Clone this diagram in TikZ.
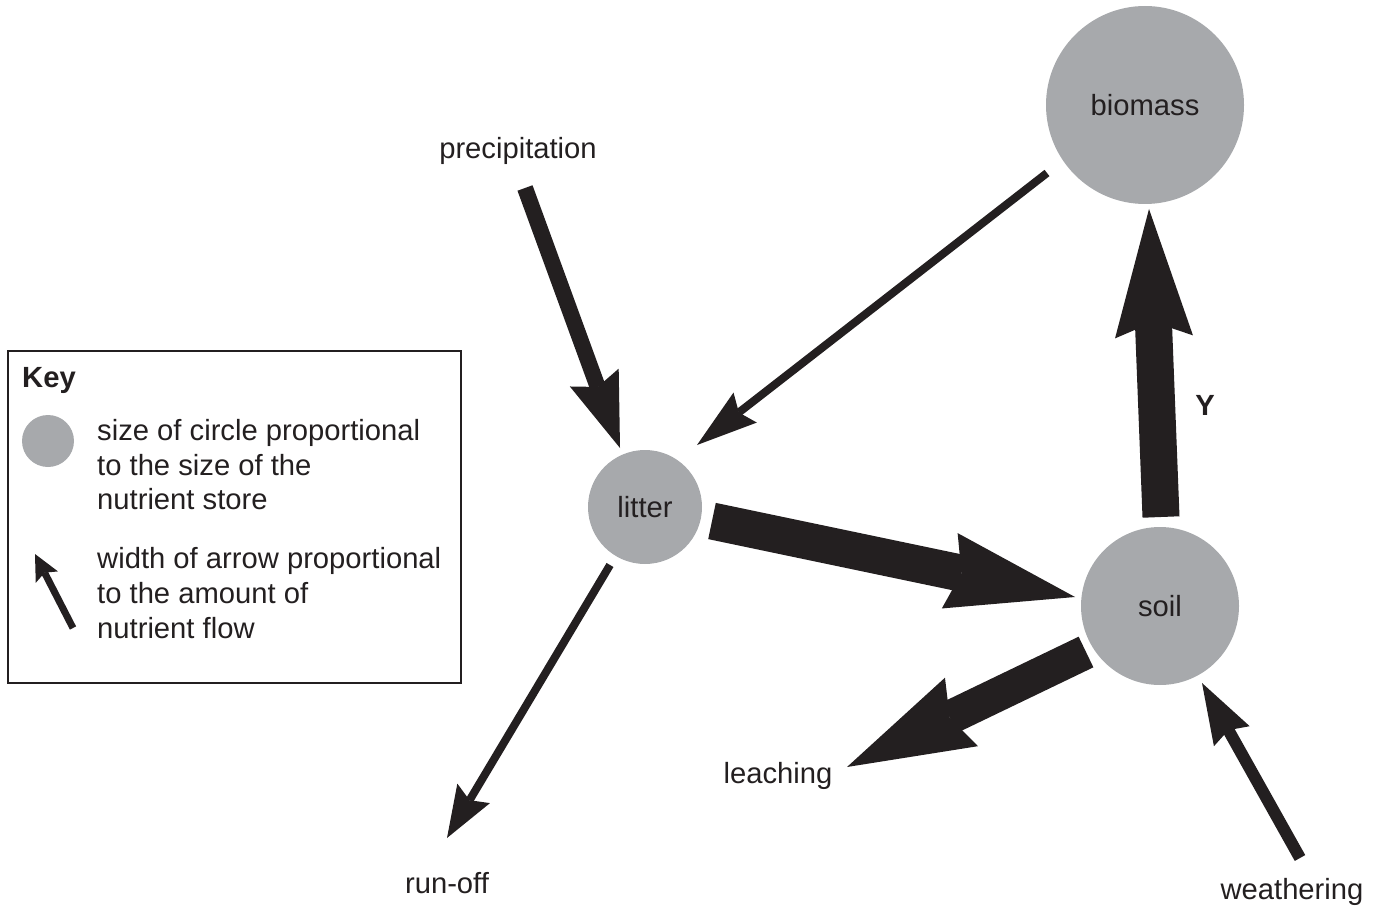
\documentclass[tikz,border=0pt]{standalone}
\usepackage{fontspec}
\setmainfont{Liberation Sans}
\usetikzlibrary{arrows.meta,calc}
\definecolor{ink}{HTML}{231F20}
\definecolor{storegray}{HTML}{A7A9AC}
\begin{document}
\begin{tikzpicture}[x=1pt,y=-1pt,
  lbl/.style={font=\fontsize{29.2}{35}\selectfont, text=ink, inner sep=0pt},
  boldlbl/.style={font=\fontsize{29.2}{35}\selectfont\bfseries, text=ink, inner sep=0pt},
  store/.style={circle, fill=storegray, inner sep=0pt, minimum size=#1,
                font=\fontsize{29.2}{35}\selectfont, text=ink},
  flow/.style n args={4}{draw=ink, line width=#1,
                -{Stealth[length=#2, width=#3, inset=#4, line width=0pt, fill=ink]}},
]
\useasboundingbox (0,0) rectangle (1381,909);

% stores
\node[store=198pt] (biomass) at (1145,105) {biomass};
\node[store=114pt] (litter) at (645,507) {litter};
\node[store=158pt] (soil) at (1160,606) {soil};

% labels
\node[lbl] (precip) at (518,151) {precipitation};
\node[lbl] (leaching) at (778,776) {leaching};
\node[lbl] (runoff) at (447,883) {run-off};
\node[lbl] (weathering) at (1292,892) {weathering};
\node[boldlbl] (ylabel) at (1205,405) {Y};

% flows
\draw[flow={16pt}{75pt}{52pt}{10pt}] ($(precip.center)+(7,37)$) -- ($(litter.center)+(-25,-59)$);
\draw[flow={8pt}{61pt}{38pt}{8pt}] ($(biomass.center)+(-98,68)$) -- ($(litter.center)+(52,-62)$);
\draw[flow={37pt}{128pt}{77pt}{12pt}] ($(litter.center)+(67,14)$) -- ($(soil.center)+(-85,-9)$);
\draw[flow={37pt}{128pt}{78pt}{15pt}] ($(soil.center)+(1,-89)$) -- ($(biomass.center)+(4,104)$);
\draw[flow={34pt}{127pt}{76pt}{13pt}] ($(soil.center)+(-74,46)$) -- ($(leaching.center)+(69,-9)$);
\draw[flow={8pt}{52pt}{38pt}{8pt}] ($(litter.center)+(-35,58)$) -- ($(runoff.center)+(0,-45)$);
\draw[flow={12pt}{61pt}{41pt}{7pt}] ($(weathering.center)+(8,-34)$) -- ($(soil.center)+(42,77)$);

% key
\node[draw=ink, line width=2pt, minimum width=453pt, minimum height=332pt,
      inner sep=0pt, anchor=north west] (keybox) at (7,350) {};
\node[boldlbl, anchor=base west] (keytitle) at (22,387) {Key};
\node[circle, fill=storegray, minimum size=52pt, inner sep=0pt] (keycircle) at (48,441) {};
\node[lbl, anchor=base west] (k1) at (97,440) {size of circle proportional};
\node[lbl, anchor=base west] (k2) at (97,475) {to the size of the};
\node[lbl, anchor=base west] (k3) at (97,509) {nutrient store};
\node[lbl, anchor=base west] (k4) at (97,568) {width of arrow proportional};
\node[lbl, anchor=base west] (k5) at (97,603) {to the amount of};
\node[lbl, anchor=base west] (k6) at (97,638) {nutrient flow};
\coordinate (keyfrom) at (73,628);
\coordinate (keyto) at (35,554);
\draw[flow={7pt}{26pt}{25pt}{5pt}] (keyfrom) -- (keyto);
\end{tikzpicture}
\end{document}
